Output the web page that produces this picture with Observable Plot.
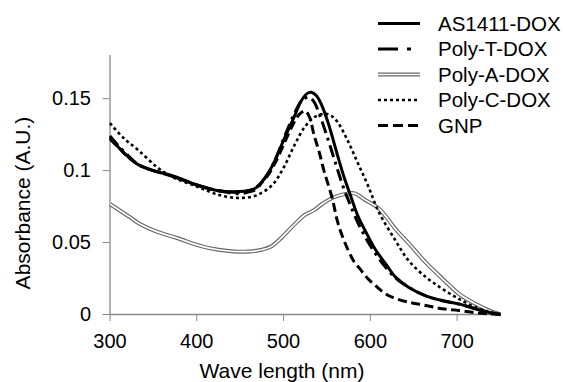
<!DOCTYPE html>
<html>
<head>
<meta charset="utf-8">
<script src="https://cdn.jsdelivr.net/npm/d3@7"></script>
<script src="https://cdn.jsdelivr.net/npm/@observablehq/plot@0.6"></script>
<style>
  html, body { margin: 0; padding: 0; background: #fff; }
  #wrap { position: relative; width: 565px; height: 382px; font-family: "Liberation Sans", Arial, sans-serif; color: #000; }
  .title { position: absolute; font-size: 21px; line-height: 24px; text-align: center; white-space: nowrap; }
  #ytitle { left: -77px; top: 191px; width: 200px; transform: rotate(-90deg); }
  #xtitle { left: 132px; top: 359px; width: 300px; }
  #legend { position: absolute; left: 370px; top: 0px; }
</style>
</head>
<body>
<div id="wrap">
  <div class="title" id="ytitle">Absorbance (A.U.)</div>
  <div class="title" id="xtitle">Wave length (nm)</div>
</div>
<script>
// ---- data ----
const seriesNames = ["AS1411-DOX", "Poly-T-DOX", "Poly-A-DOX", "Poly-C-DOX", "GNP"];
const xTicks = [300, 400, 500, 600, 700];
const yTicks = [0, 0.05, 0.1, 0.15];
const xDomain = [300, 750];
const yDomain = [0, 0.18];

const as1411Nm  = [300,310,320,333,350,372,400,425,449,460,468,481,490,500,512,520,527,532,538,545,552,562,570,577,586,596,606,618,629,644,664,683,702,721,736,750];
const as1411Abs = [0.123,0.116,0.110,0.104,0.100,0.0965,0.090,0.086,0.0854,0.0862,0.088,0.097,0.107,0.121,0.137,0.148,0.1535,0.1545,0.152,0.144,0.132,0.111,0.095,0.083,0.068,0.056,0.045,0.035,0.026,0.019,0.013,0.0097,0.0074,0.004,0.0015,0];

const polyTNm  = [300,310,320,333,350,372,400,425,449,460,468,481,490,500,512,520,524,529,535,542,550,560,568,575,584,594,604,616,628,644,664,683,702,721,736,750];
const polyTAbs = [0.124,0.117,0.111,0.104,0.100,0.096,0.090,0.086,0.084,0.0852,0.087,0.097,0.107,0.122,0.139,0.148,0.150,0.151,0.148,0.138,0.124,0.105,0.090,0.079,0.066,0.054,0.044,0.034,0.026,0.019,0.013,0.0095,0.0072,0.004,0.0015,0];

const polyANm  = [300,310,322,335,353,378,405,425,443,460,475,485,497,505,515,524,535,545,558,573,582,593,610,631,645,664,683,702,721,736,750];
const polyAAbs = [0.0767,0.0728,0.068,0.0627,0.0578,0.053,0.0475,0.045,0.0438,0.0438,0.045,0.047,0.053,0.058,0.064,0.069,0.0725,0.077,0.0815,0.084,0.0842,0.080,0.0735,0.058,0.049,0.036,0.025,0.0144,0.0074,0.003,0];

const polyCNm  = [300,315,333,355,372,400,426,449,468,487,500,512,524,535,547,555,562,573,585,597,610,629,644,664,683,702,721,736,750];
const polyCAbs = [0.133,0.123,0.114,0.102,0.0955,0.089,0.083,0.081,0.0826,0.090,0.102,0.117,0.130,0.137,0.1395,0.138,0.134,0.122,0.106,0.090,0.071,0.0514,0.0375,0.026,0.0178,0.0109,0.005,0.002,0];

const gnpNm  = [300,310,320,333,350,372,400,425,449,460,468,481,490,500,510,518,525,530,535,541,547,556,562,568,575,581,589,597,606,616,625,644,664,683,702,721,736,750];
const gnpAbs = [0.122,0.116,0.110,0.104,0.100,0.096,0.090,0.086,0.085,0.086,0.088,0.096,0.105,0.118,0.131,0.139,0.1415,0.137,0.125,0.113,0.099,0.081,0.065,0.054,0.044,0.037,0.031,0.025,0.020,0.015,0.012,0.0086,0.0063,0.004,0.0028,0.0012,0.0005,0];

// ---- build tables ----
const rows = (nm, abs) => nm.map((x, i) => ({nm: x, abs: abs[i]}));
const data = {
  "AS1411-DOX": rows(as1411Nm, as1411Abs),
  "Poly-T-DOX": rows(polyTNm, polyTAbs),
  "Poly-A-DOX": rows(polyANm, polyAAbs),
  "Poly-C-DOX": rows(polyCNm, polyCAbs),
  "GNP": rows(gnpNm, gnpAbs)
};

// ---- styles ----
const styles = {
  "AS1411-DOX": {stroke: "#000", strokeWidth: 3},
  "Poly-T-DOX": {stroke: "#000", strokeWidth: 3, strokeDasharray: "12,5,3,5"},
  "Poly-C-DOX": {stroke: "#000", strokeWidth: 2.6, strokeDasharray: "3,3"},
  "GNP":        {stroke: "#000", strokeWidth: 3, strokeDasharray: "9,4.5"}
};
const legendDash = {"Poly-T-DOX": "20,9,4,9", "Poly-C-DOX": "3,3", "GNP": "10,5"};
const doubleOuter = {stroke: "#666", strokeWidth: 4};
const doubleInner = {stroke: "#fff", strokeWidth: 1.7};

const lineOpts = (st) => ({x: "nm", y: "abs", curve: "catmull-rom", strokeLinecap: "butt", strokeLinejoin: "round", ...st});

const plot = Plot.plot({
  width: 565,
  height: 382,
  marginLeft: 109.5,
  marginRight: 65,
  marginTop: 55,
  marginBottom: 68,
  x: {domain: xDomain},
  y: {domain: yDomain},
  style: {fontFamily: "'Liberation Sans', Arial, sans-serif", fontSize: "20px", color: "#000", background: "transparent"},
  marks: [
    Plot.ruleX([xDomain[0]], {y1: yDomain[0], y2: yDomain[1], stroke: "#888", strokeWidth: 1.3}),
    Plot.ruleY([yDomain[0]], {x1: xDomain[0], x2: xDomain[1], stroke: "#888", strokeWidth: 1.3}),
    Plot.axisX({ticks: xTicks, tickSize: 7, tickPadding: 12, stroke: "#888", fill: "#000", label: null, tickFormat: d => String(d)}),
    Plot.axisY({ticks: yTicks, tickSize: 7, tickPadding: 12, stroke: "#888", fill: "#000", label: null, tickFormat: d => String(d)}),
    Plot.line(data["Poly-A-DOX"], lineOpts(doubleOuter)),
    Plot.line(data["Poly-A-DOX"], lineOpts(doubleInner)),
    Plot.line(data["Poly-C-DOX"], lineOpts(styles["Poly-C-DOX"])),
    Plot.line(data["GNP"], lineOpts(styles["GNP"])),
    Plot.line(data["Poly-T-DOX"], lineOpts(styles["Poly-T-DOX"])),
    Plot.line(data["AS1411-DOX"], lineOpts(styles["AS1411-DOX"]))
  ]
});
plot.style.position = "absolute";
plot.style.left = "0px";
plot.style.top = "0px";
const wrap = document.getElementById("wrap");
wrap.insertBefore(plot, wrap.firstChild);

// ---- legend ----
const leg = d3.select("#wrap").append("svg").attr("id", "legend").attr("width", 195).attr("height", 140);
const rowY = [23.5, 49, 74.5, 100, 125.5];
seriesNames.forEach((name, i) => {
  const g = leg.append("g").attr("transform", `translate(0,${rowY[i]})`);
  if (name === "Poly-A-DOX") {
    g.append("line").attr("x1", 8).attr("x2", 50).attr("stroke", doubleOuter.stroke).attr("stroke-width", doubleOuter.strokeWidth);
    g.append("line").attr("x1", 8).attr("x2", 50).attr("stroke", doubleInner.stroke).attr("stroke-width", doubleInner.strokeWidth);
  } else {
    const st = styles[name];
    g.append("line").attr("x1", 8).attr("x2", 50).attr("stroke", st.stroke).attr("stroke-width", st.strokeWidth)
      .attr("stroke-dasharray", legendDash[name] || null);
  }
  g.append("text").attr("x", 68).attr("y", 0).attr("dy", "0.36em")
    .attr("font-family", "'Liberation Sans', Arial, sans-serif").attr("font-size", 20.5).attr("fill", "#000").text(name);
});
</script>
</body>
</html>
